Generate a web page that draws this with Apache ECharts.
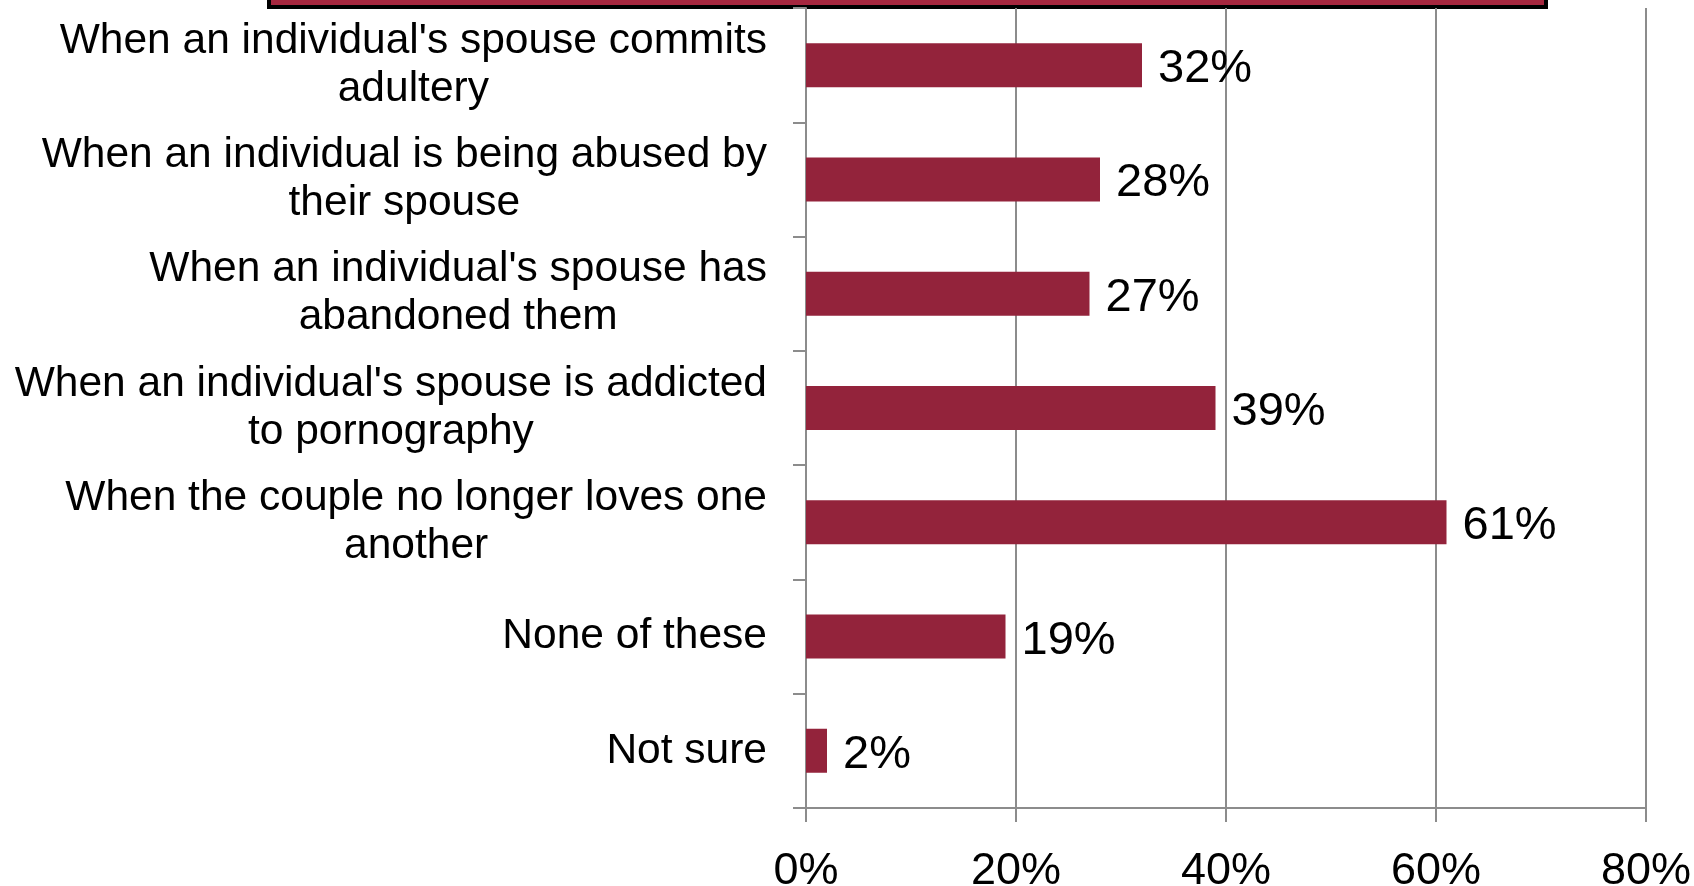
<!DOCTYPE html>
<html><head><meta charset="utf-8">
<script src="https://cdn.jsdelivr.net/npm/echarts@6/dist/echarts.min.js"></script>
<style>html,body{margin:0;padding:0;background:#fff}#c{width:1694px;height:886px}</style>
</head><body><div id="c"></div>
<script>
const categories = [
  "When an individual's spouse commits\nadultery",
  "When an individual is being abused by\ntheir spouse",
  "When an individual's spouse has\nabandoned them",
  "When an individual's spouse is addicted\nto pornography",
  "When the couple no longer loves one\nanother",
  "None of these",
  "Not sure"
];
const values = [32, 28, 27, 39, 61, 19, 2];
const xTicks = [0, 20, 40, 60, 80];

const FONT = 'Liberation Sans, Arial, sans-serif';
const CAT_SIZE = 42.5;
const ctx = document.createElement('canvas').getContext('2d');
ctx.font = CAT_SIZE + 'px ' + FONT;
function blockWidth(s) {
  return Math.max(...s.split('\n').map(l => ctx.measureText(l).width));
}
// centre lines inside each label block while keeping the block right-aligned to the axis
const catData = categories.map(c => ({
  value: c,
  textStyle: { align: 'center', padding: [12, blockWidth(c), 0, 0] }
}));

const chart = echarts.init(document.getElementById('c'));
chart.setOption({
  animation: false,
  textStyle: { fontFamily: FONT },
  grid: { left: 806, right: 48, top: 8, bottom: 78, containLabel: false, outerBoundsMode: 'none' },
  graphic: [{
    type: 'rect',
    shape: { x: 269, y: -30, width: 1277, height: 37 },
    style: { fill: '#a6273f', stroke: '#000', lineWidth: 4 }
  }],
  xAxis: {
    type: 'value', min: 0, max: 80, interval: 20,
    axisLine: { show: true, lineStyle: { color: '#8c8c8c', width: 2 } },
    axisTick: { show: true, length: 14, lineStyle: { color: '#8c8c8c', width: 2 } },
    splitLine: { show: true, lineStyle: { color: '#8c8c8c', width: 2 } },
    axisLabel: { formatter: v => v + '%', fontSize: 45, color: '#000', margin: 41 }
  },
  yAxis: {
    type: 'category', data: catData, inverse: true,
    axisLine: { show: true, lineStyle: { color: '#8c8c8c', width: 2 } },
    axisTick: { show: true, length: 13, lineStyle: { color: '#8c8c8c', width: 2 } },
    axisLabel: { fontSize: CAT_SIZE, color: '#000', margin: 39, lineHeight: 48 }
  },
  series: [{
    type: 'bar', data: values, barWidth: 44,
    itemStyle: { color: '#93233b' },
    label: { show: true, position: 'right', distance: 16, offset: [0, 4], formatter: p => p.value + '%', fontSize: 47, color: '#000' }
  }]
});
</script></body></html>
